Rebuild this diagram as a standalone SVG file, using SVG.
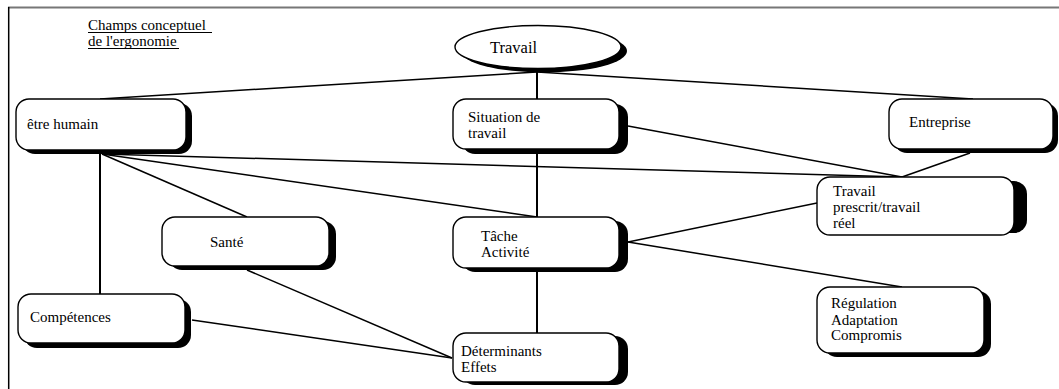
<svg xmlns="http://www.w3.org/2000/svg" width="1059" height="389" viewBox="0 0 1059 389">
<style>
.box{fill:#fff;stroke:#000;stroke-width:1.4}
.sh{fill:#000}
.t{font-family:"Liberation Serif","Times New Roman",serif;font-size:15px;fill:#000}
.c line{stroke:#000;stroke-width:1.5}
.c line.v{stroke-width:2}
</style>
<rect x="0" y="0" width="1059" height="389" fill="#fff"/>
<line x1="8" y1="7.5" x2="1059" y2="7.5" stroke="#777" stroke-width="2"/>
<line x1="8.7" y1="7" x2="8.7" y2="389" stroke="#000" stroke-width="1.5"/>
<g id="title">
<text class="t" x="88" y="30">Champs conceptuel </text>
<text class="t" x="88" y="46">de l'ergonomie</text>
<line x1="88" y1="32.5" x2="212" y2="32.5" stroke="#000" stroke-width="1"/>
<line x1="88" y1="48.5" x2="179" y2="48.5" stroke="#000" stroke-width="1"/>
</g>
<g class="c" id="connectors">
<line x1="100" y1="99" x2="537" y2="72"/>
<line x1="537" y1="72" x2="973" y2="99"/>
<line class="v" x1="537" y1="68" x2="537" y2="99"/>
<line class="v" x1="537" y1="154" x2="537" y2="217"/>
<line class="v" x1="537" y1="272" x2="537" y2="333"/>
<line x1="628" y1="126" x2="902" y2="177"/>
<line x1="970" y1="153" x2="902" y2="177"/>
<line x1="102" y1="154" x2="902" y2="177"/>
<line class="v" x1="100" y1="154" x2="100" y2="294"/>
<line x1="102" y1="154" x2="247" y2="217"/>
<line x1="102" y1="154" x2="537" y2="217"/>
<line x1="628" y1="242" x2="817" y2="203"/>
<line x1="628" y1="242" x2="902" y2="287"/>
<line x1="247" y1="270" x2="452" y2="358"/>
<line x1="192" y1="320" x2="452" y2="358"/>
</g>
<g id="travail">
<ellipse class="sh" cx="544" cy="51" rx="83" ry="21.5"/>
<ellipse class="box" cx="538" cy="47" rx="83" ry="21.5"/>
<text class="t" x="490" y="53" style="font-size:16.5px">Travail</text>
</g>
<g id="etre-humain">
<rect class="sh" x="22" y="103" width="170" height="51" rx="13"/>
<rect class="box" x="16" y="99" width="170" height="51" rx="13"/>
<text class="t" x="27" y="129">être humain</text>
</g>
<g id="situation">
<rect class="sh" x="462" y="104" width="166" height="50" rx="13"/>
<rect class="box" x="453" y="99" width="166" height="50" rx="13"/>
<text class="t" x="468" y="122">Situation de</text>
<text class="t" x="468" y="138">travail</text>
</g>
<g id="entreprise">
<rect class="sh" x="894" y="103" width="164" height="50" rx="13"/>
<rect class="box" x="889" y="99" width="164" height="50" rx="13"/>
<text class="t" x="909" y="127">Entreprise</text>
</g>
<g id="sante">
<rect class="sh" x="169" y="221" width="167" height="49" rx="13"/>
<rect class="box" x="162" y="217" width="167" height="49" rx="13"/>
<text class="t" x="210" y="247">Santé</text>
</g>
<g id="competences">
<rect class="sh" x="24" y="299" width="167" height="49" rx="13"/>
<rect class="box" x="18" y="294" width="167" height="49" rx="13"/>
<text class="t" x="30" y="322">Compétences</text>
</g>
<g id="tache">
<rect class="sh" x="462" y="221" width="166" height="51" rx="13"/>
<rect class="box" x="453" y="217" width="166" height="51" rx="13"/>
<text class="t" x="481" y="241">Tâche</text>
<text class="t" x="481" y="257">Activité</text>
</g>
<g id="determinants">
<rect class="sh" x="462" y="336" width="166" height="49" rx="13"/>
<rect class="box" x="453" y="333" width="166" height="49" rx="13"/>
<text class="t" x="461" y="356">Déterminants</text>
<text class="t" x="461" y="372">Effets</text>
</g>
<g id="prescrit">
<rect class="sh" x="828" y="181" width="199" height="52" rx="13"/>
<rect class="box" x="817" y="177" width="197" height="58" rx="13"/>
<text class="t" x="833" y="196">Travail</text>
<text class="t" x="833" y="212">prescrit/travail</text>
<text class="t" x="833" y="228">réel</text>
</g>
<g id="regulation">
<rect class="sh" x="824" y="291" width="167" height="66" rx="13"/>
<rect class="box" x="817" y="287" width="167" height="66" rx="13"/>
<text class="t" x="831" y="308">Régulation</text>
<text class="t" x="831" y="325">Adaptation</text>
<text class="t" x="831" y="340">Compromis</text>
</g>
</svg>
